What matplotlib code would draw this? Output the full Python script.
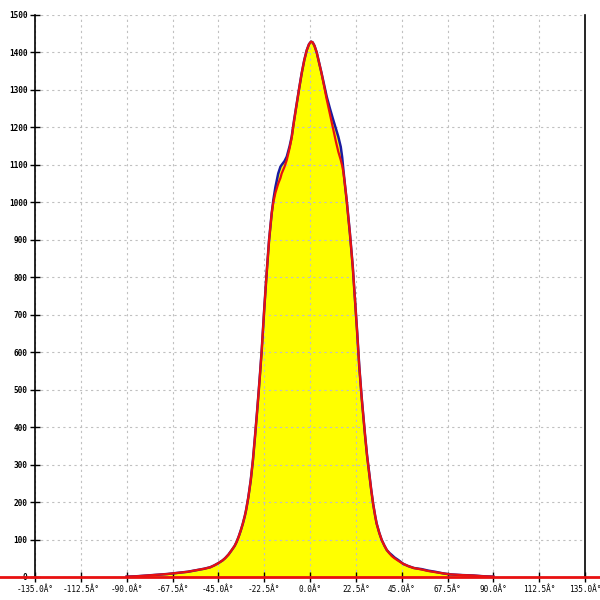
import numpy as np
import matplotlib.pyplot as plt

# 角度分布
angle = [-90, -85, -80, -75, -70, -65, -60, -55, -52, -49, -47, -45, -43, -41.7, -40,
         -38.4, -37, -36, -35, -34, -33, -32, -31.4, -30.3, -29.1, -28, -27, -26,
         -25.4, -24.5, -23.7, -22.4, -21.3, -20.1, -18.8, -18, -17, -15.6, -14.5, -13.9,
         -12.5, -11.4, -10, -9, -7.8, -6.5, -5.3, -4.1, -2.8, -1.6, -0.5, 0.5, 1.3, 2.2,
         3.3, 4.5, 5.7, 7, 8.2, 9.8, 11.4, 12.8, 13.9, 15.1, 15.8, 16.4, 17.2, 18, 19.6,
         21, 22.1, 23.2, 24.2, 25.4, 27, 28, 29, 30, 31, 32, 32.7, 34, 35.2, 36.5,
         37.7, 39, 40.1, 41.5, 43.4, 45.8, 48.3, 51, 54.8, 58, 61.4, 65, 68.7, 75, 80.2,
         85, 90]
counts = [1, 2, 4, 6, 8, 11, 14, 19, 22, 26, 31, 37, 44, 50, 60,
          72, 83, 94, 108, 124, 142, 163, 178, 212, 258, 313, 375, 440,
          481, 545, 606, 721, 810, 899, 971, 1006, 1040, 1077, 1095, 1100,
          1110, 1122, 1150, 1175, 1220, 1264, 1305, 1344, 1380, 1406, 1422, 1429, 1427, 1418,
          1400, 1372, 1344, 1312, 1282, 1250, 1220, 1195, 1175, 1148, 1120, 1086, 1045, 1006, 917,
          828, 739, 650, 561, 477, 380, 325, 280, 235, 195, 163, 143, 118, 99, 84,
          72, 64, 59, 52, 45, 35, 29, 24, 21, 17, 14, 10, 7, 5, 4,
          2, 1]
# 拟合曲线
fit_counts = [1, 2, 4, 6, 8, 11, 14, 19, 22, 26, 31, 37, 44, 50, 60,
              72, 83, 94, 108, 124, 142, 163, 178, 212, 258, 313, 375, 440,
              481, 545, 606, 721, 810, 899, 971, 1000, 1025, 1050, 1065, 1077,
              1095, 1113, 1145, 1172, 1218, 1264, 1305, 1344, 1380, 1406, 1422, 1429, 1427, 1418,
              1400, 1372, 1344, 1308, 1275, 1235, 1195, 1160, 1135, 1113, 1098, 1080, 1045, 1006, 917,
              828, 739, 650, 561, 477, 380, 325, 280, 235, 195, 163, 143, 118, 99, 84,
              72, 63, 56, 50, 43, 35, 29, 24, 20, 16, 13, 10, 7, 5, 4,
              2, 1]

xticks = np.arange(-135, 135.1, 22.5)
xlabels = ['%.1fÂ°' % t for t in xticks]
yticks = np.arange(0, 1501, 100)

fig = plt.figure(figsize=(6, 6), dpi=100)
ax = fig.add_axes([35 / 600, 23 / 600, 550 / 600, 562 / 600])

ax.fill_between(angle, counts, 0, color='#ffff00', lw=0)
ax.plot(angle, counts, color='#1a1aa0', lw=1.8, solid_joinstyle='round')
ax.plot(angle, fit_counts, color='#e81010', lw=1.6, solid_joinstyle='round')
ax.axhline(0, xmin=-35 / 550, xmax=1 + 15 / 550, color='#e81010', lw=2, clip_on=False, zorder=5)

ax.set_xlim(-135, 135)
ax.set_ylim(0, 1500)
ax.set_xticks(xticks)
ax.set_xticklabels(xlabels, family='DejaVu Sans Mono', fontsize=5.6)
ax.set_yticks(yticks)
ax.set_yticklabels([str(t) for t in yticks], family='DejaVu Sans Mono',
                   fontsize=5.6, fontweight='bold')
ax.tick_params(axis='both', direction='inout', length=7, width=1, pad=2)

ax.grid(True, color='#c0c0c0', linestyle=(0, (2, 3)), lw=0.8)
ax.spines['top'].set_visible(False)
ax.spines['bottom'].set_visible(False)
for s in ['left', 'right']:
    ax.spines[s].set_linewidth(1.2)

fig.savefig('out.png', dpi=100)
